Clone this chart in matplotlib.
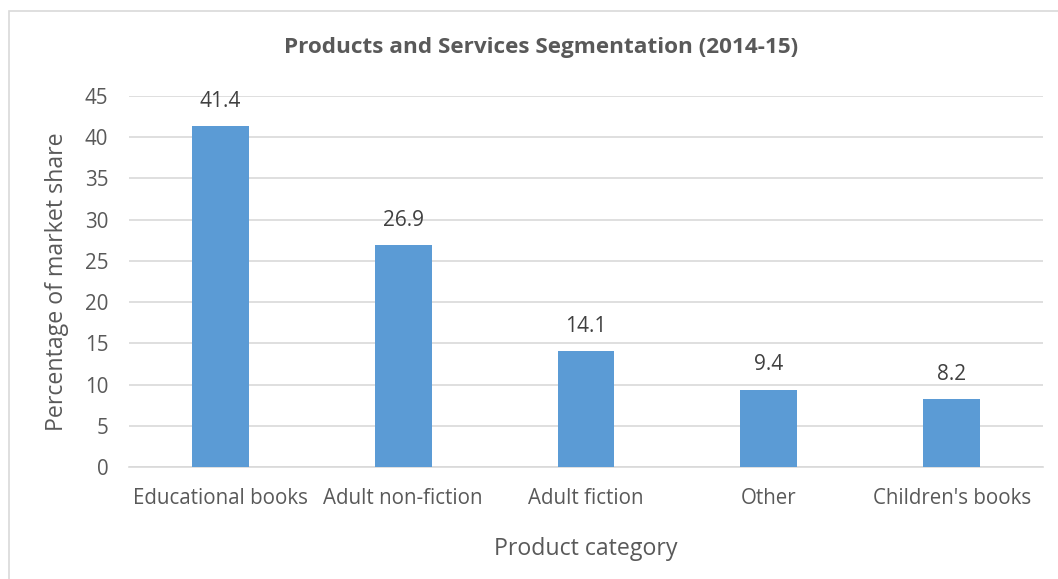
import matplotlib.pyplot as plt
from matplotlib.patches import Rectangle

categories = ['Educational books', 'Adult non-fiction', 'Adult fiction', 'Other', "Children's books"]
shares = [41.4, 26.9, 14.1, 9.4, 8.2]
yticks = [0, 5, 10, 15, 20, 25, 30, 35, 40, 45]

W, H = 1058, 579
fig = plt.figure(figsize=(W / 100, H / 100), dpi=100)
plt.rcParams['font.family'] = ['Open Sans', 'DejaVu Sans']
grey = '#595959'

# chart-area border (cut off on the right and bottom, as in the original)
fig.patches.append(Rectangle((9 / W, -0.1), 1.2, 1 - 11 / H + 0.1, transform=fig.transFigure,
                             fill=False, edgecolor='#d9d9d9', linewidth=1.2))

ax = fig.add_axes([129 / W, 1 - 467 / H, (1043 - 129) / W, (467 - 96) / H])
x = range(len(categories))
bars = ax.bar(x, shares, width=0.31, color='#5b9bd5', zorder=3)
for b, v in zip(bars, shares):
    ax.text(b.get_x() + b.get_width() / 2, v + 1.7, f'{v}', ha='center', va='bottom',
            fontsize=15, color='#404040')

ax.set_xlim(-0.5, len(categories) - 0.5)
ax.set_ylim(0, 45)
ax.set_yticks(yticks)
ax.set_xticks(list(x))
ax.set_xticklabels(categories)
ax.tick_params(axis='both', length=0, labelsize=14.8, labelcolor=grey)
ax.tick_params(axis='y', pad=15)
ax.tick_params(axis='x', pad=15)
ax.grid(axis='y', color='#d9d9d9', linewidth=1.2, zorder=0)
for s in ['top', 'right', 'left']:
    ax.spines[s].set_visible(False)
ax.spines['bottom'].set_color('#d9d9d9')
ax.spines['bottom'].set_linewidth(1.2)

ax.set_xlabel('Product category', fontsize=16.7, color=grey, labelpad=20)
ax.set_ylabel('Percentage of market share', fontsize=16.7, color=grey, labelpad=11)
fig.text(541 / W, 1 - 48 / H, 'Products and Services Segmentation (2014-15)', ha='center',
         va='center', fontsize=16.2, fontweight='bold', color=grey)

fig.savefig('out.png', dpi=100)
